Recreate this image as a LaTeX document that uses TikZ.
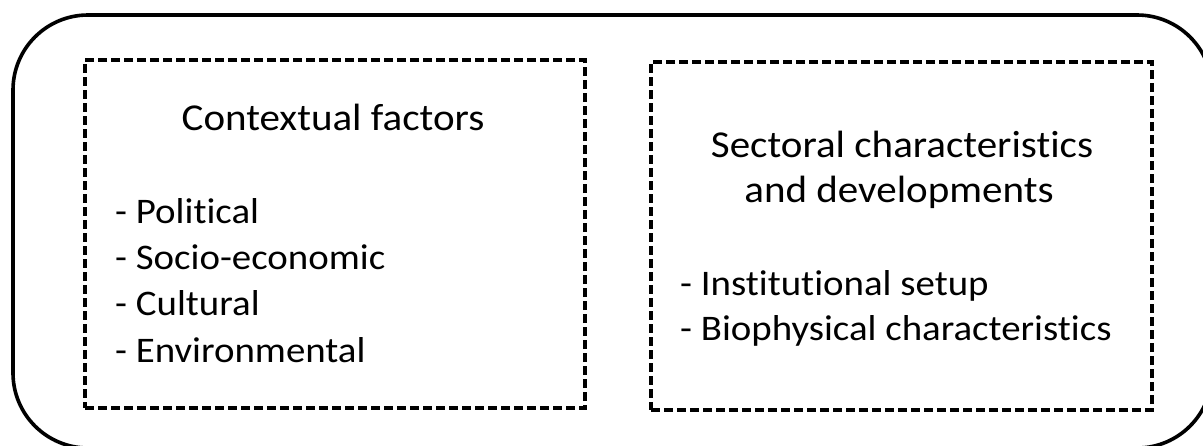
\documentclass[tikz,border=0pt]{standalone}
\usepackage{fontspec}
\setmainfont{Carlito}[FakeStretch=1.08,Ligatures=NoCommon]
\begin{document}
\begin{tikzpicture}[x=1pt,y=-1pt,
  outerbox/.style={draw=black,line width=3.6pt,rounded corners=75pt},
  dashbox/.style={draw=black,line width=3.2pt,dash pattern=on 9pt off 4pt},
  title/.style={font=\fontsize{38}{45}\selectfont,anchor=base,inner sep=0pt},
  item/.style={font=\fontsize{36}{45}\selectfont,anchor=base west,inner sep=0pt}]
\useasboundingbox (0,0) rectangle (1203,445);
\clip (0,0) rectangle (1203,445);
\draw[outerbox] (13,15) rectangle (1212,448);
\node[dashbox,minimum width=500pt,minimum height=348pt,inner sep=0pt] (ctx) at (335,234) {};
\node[dashbox,minimum width=501pt,minimum height=348pt,inner sep=0pt] (sec) at (901.5,236) {};
\node[title] (ctxt) at (333,130) {Contextual factors};
\node[item] (c1) at (115,223) {- Political};
\node[item] (c2) at (115,269) {- Socio-economic};
\node[item] (c3) at (115,315) {- Cultural};
\node[item] (c4) at (115,362) {- Environmental};
\node[title] (st1) at (902,157) {Sectoral characteristics};
\node[title] (st2) at (899,202) {and developments};
\node[item] (s1) at (680,295) {- Institutional setup};
\node[item] (s2) at (680,340) {- Biophysical characteristics};
\end{tikzpicture}
\end{document}
